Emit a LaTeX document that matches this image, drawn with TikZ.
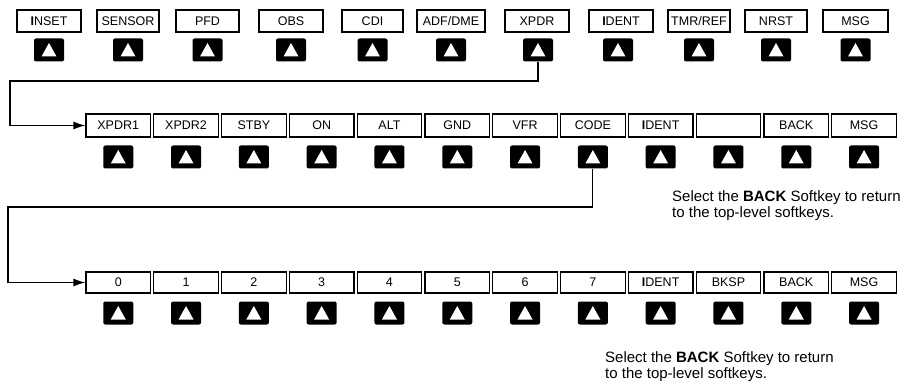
\documentclass[tikz,border=0pt]{standalone}
\usepackage{fontspec}
\setmainfont{Liberation Sans}
\usetikzlibrary{arrows.meta}
\newcommand\softkey[3]{%
  \node[btn] (#1) at (#2,#3) {};
  \fill[white] (#1.center) ++(-7.5,6.5) -- ++(15,0) -- ++(-7.5,-13.5) -- cycle;}
\begin{document}
\begin{tikzpicture}[x=1pt,y=-1pt,
  key/.style={draw,line width=1.2pt,minimum height=22pt,inner sep=0pt,
    font=\fontsize{12.5}{14}\selectfont},
  btn/.style={fill=black,rounded corners=2pt,minimum width=30pt,minimum height=23pt,inner sep=0pt},
  conn/.style={line width=1.2pt},
  tip/.style={-{Latex[length=12pt,width=8pt]}},
  note/.style={anchor=north west,align=left,inner sep=0pt,
    font=\fontsize{15}{15.5}\selectfont}]
\useasboundingbox (0,0) rectangle (901,390);
% top row
\foreach \n/\x/\w/\bx/\t in {1/49/64/49/\textbf{I}NSET, 2/128/62/128/SENSOR, 3/207.5/63/207.5/PFD,
  4/291/64/291/OBS, 5/372.5/61/372.5/CDI, 6/451/68/451/ADF\slash DME, 7/537/64/538/XPDR,
  8/621/64/618/\textbf{I}DENT, 9/699/62/699/TMR\slash REF, 10/776/62/776/NRST, 11/855.5/65/855.5/MSG}{
  \node[key,minimum width=\w pt] (t\n) at (\x,21) {\t};
  \softkey{tb\n}{\bx}{50}
}
% second row
\foreach \n/\t [evaluate=\n as \x using {118.25+67.8*(\n-1)}] in {1/XPDR1, 2/XPDR2, 3/STBY, 4/ON, 5/ALT, 6/GND,
  7/VFR, 8/CODE, 9/\textbf{I}DENT, 10/{}, 11/BACK, 12/MSG}{
  \node[key,minimum width=64.5pt,minimum height=23pt] (s\n) at (\x,125.5) {\t};
  \softkey{sb\n}{\x}{157}
}
% third row
\foreach \n/\t [evaluate=\n as \x using {118.25+67.8*(\n-1)}] in {1/0, 2/1, 3/2, 4/3, 5/4, 6/5,
  7/6, 8/7, 9/\textbf{I}DENT, 10/BKSP, 11/BACK, 12/MSG}{
  \node[key,minimum width=64.5pt,minimum height=21pt] (d\n) at (\x,282.5) {\t};
  \softkey{db\n}{\x}{313}
}
% connectors
\coordinate (j1) at (10,81);
\draw[conn,tip] (tb7.south) |- (j1) |- (s1.west);
\coordinate (j2) at (8,207);
\draw[conn,tip] (sb8.south) |- (j2) |- (d1.west);
% notes
\node[note] (n1) at (672,190.5) {Select the \textbf{BACK} Softkey to return\\to the top-level softkeys.};
\node[note] (n2) at (605,351.5) {Select the \textbf{BACK} Softkey to return\\to the top-level softkeys.};
\end{tikzpicture}
\end{document}
